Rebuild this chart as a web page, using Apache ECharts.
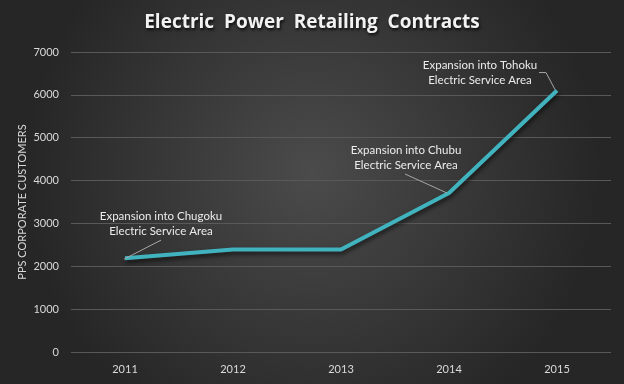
<!DOCTYPE html>
<html><head><meta charset="utf-8">
<script src="https://cdn.jsdelivr.net/npm/echarts@6/dist/echarts.min.js"></script>
<style>html,body{margin:0;padding:0;}#c{width:624px;height:384px;}</style>
</head><body><div id="c"></div>
<script>
const categories = ['2011','2012','2013','2014','2015'];
const customers = [2190, 2390, 2390, 3710, 6100];
const yTicks = [0,1000,2000,3000,4000,5000,6000,7000];
const annotationIndex = [0, 3, 4];
const annotationText = [
  'Expansion into Chugoku\nElectric Service Area',
  'Expansion into Chubu\nElectric Service Area',
  'Expansion into Tohoku\nElectric Service Area'
];
// label centre offsets and leader-line points, in pixels relative to the data point
const annotationLabelOffset = [[36,-34],[-43,-35],[-77,-18]];
const annotationLeader = [
  [[-1,1],[36,-18]],
  [[-44,-19],[-2,0]],
  [[-18,-18],[-11,-18],[-2,-1]]
];

const chart = echarts.init(document.getElementById('c'));
chart.setOption({
  backgroundColor:{type:'radial',x:0.5,y:0.45,r:0.75,colorStops:[{offset:0,color:'#4b4b4b'},{offset:1,color:'#262626'}]},
  title:{text:'Electric  Power  Retailing  Contracts',left:'center',top:8,
    textStyle:{color:'#f2f2f2',fontFamily:'Open Sans',fontWeight:'bold',fontSize:19,
      textShadowColor:'rgba(0,0,0,0.8)',textShadowBlur:3,textShadowOffsetX:1,textShadowOffsetY:2}},
  grid:{left:71,right:13,top:52,bottom:32},
  xAxis:{type:'category',data:categories,boundaryGap:true,
    axisLine:{show:false},axisTick:{show:false},
    axisLabel:{color:'#d9d9d9',fontFamily:'Lato',fontSize:11,margin:12}},
  yAxis:{type:'value',min:yTicks[0],max:yTicks[yTicks.length-1],interval:1000,
    name:'PPS CORPORATE CUSTOMERS',nameLocation:'middle',nameGap:43,nameRotate:90,nameMoveOverlap:false,
    nameTextStyle:{color:'#d9d9d9',fontFamily:'Lato',fontSize:11},
    axisLabel:{color:'#d9d9d9',fontFamily:'Lato',fontSize:11,margin:12,formatter:v=>String(v)},
    splitLine:{lineStyle:{color:'#595959',width:1}},
    axisLine:{show:false},axisTick:{show:false}},
  series:[{
    type:'line',data:customers,symbol:'none',
    lineStyle:{color:'#41b3bf',width:4,shadowColor:'rgba(0,0,0,0.6)',shadowBlur:4,shadowOffsetY:3,shadowOffsetX:1},
    animation:false
  }]
});

const graphics = [];
annotationIndex.forEach((idx,k)=>{
  const p = chart.convertToPixel({seriesIndex:0},[idx, customers[idx]]);
  const off = annotationLabelOffset[k];
  graphics.push({type:'polyline',silent:true,z:10,
    shape:{points:annotationLeader[k].map(q=>[p[0]+q[0],p[1]+q[1]])},
    style:{stroke:'#a6a6a6',lineWidth:1,fill:null}});
  graphics.push({type:'text',silent:true,z:10,x:p[0]+off[0],y:p[1]+off[1],
    style:{text:annotationText[k],fill:'#ececec',font:'11.5px Lato',lineHeight:15,
      align:'center',verticalAlign:'middle'}});
});
chart.setOption({graphic:graphics});
</script></body></html>
